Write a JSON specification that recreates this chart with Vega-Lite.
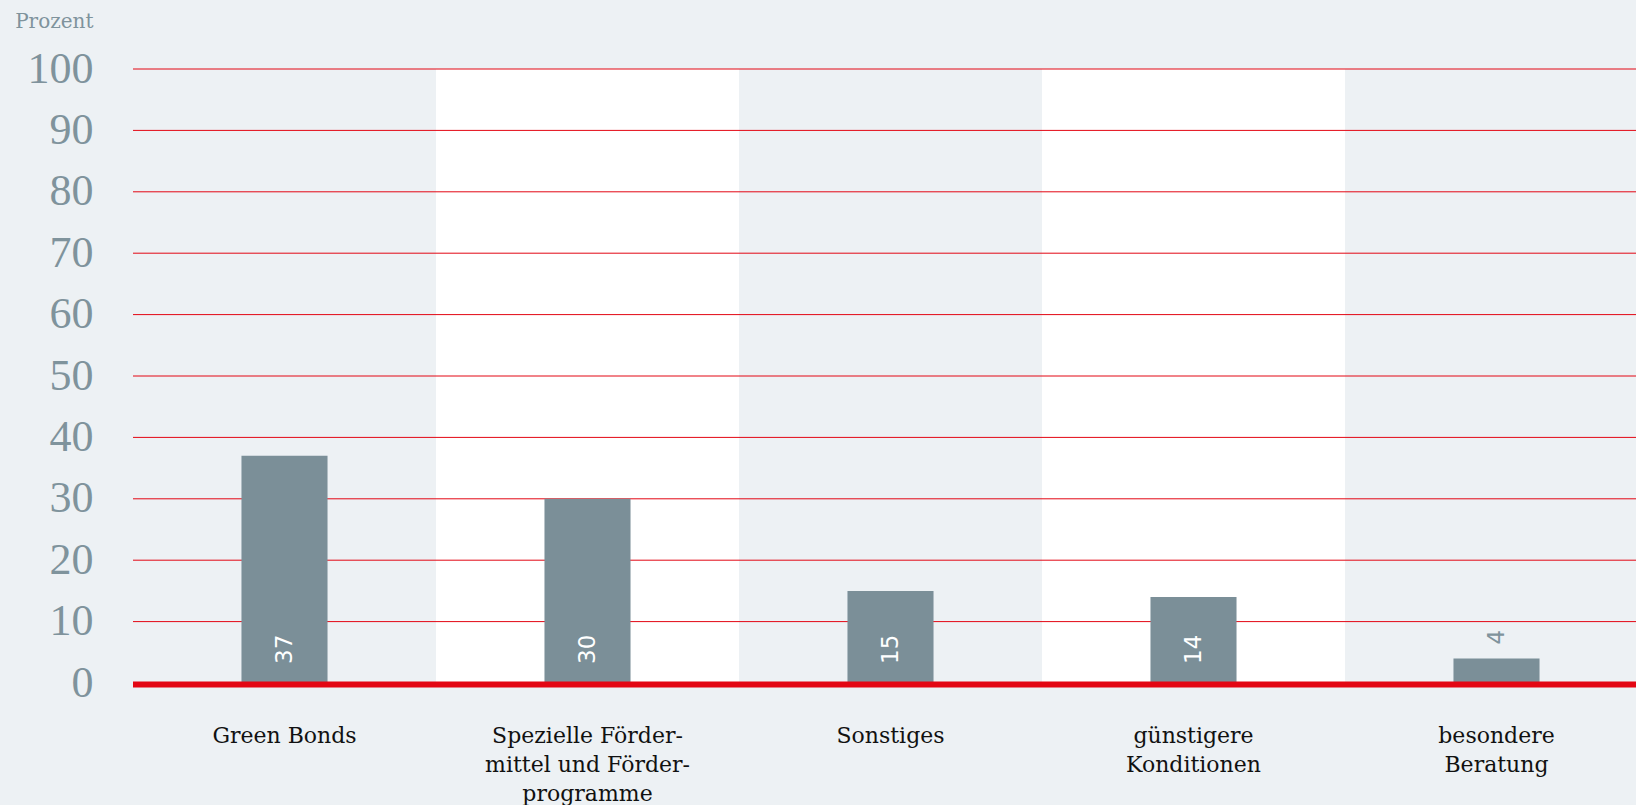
{
  "$schema": "https://vega.github.io/schema/vega-lite/v6.json",
  "autosize": "none",
  "width": 1503,
  "height": 614,
  "padding": {"left": 133, "top": 69, "right": 0, "bottom": 122},
  "background": "#edf1f4",
  "config": {"view": {"stroke": null}},
  "datasets": {
    "werte": [
      {"kategorie": "Green Bonds", "prozent": 37},
      {"kategorie": "Spezielle Fördermittel und Förderprogramme", "prozent": 30},
      {"kategorie": "Sonstiges", "prozent": 15},
      {"kategorie": "günstigere Konditionen", "prozent": 14},
      {"kategorie": "besondere Beratung", "prozent": 4}
    ],
    "streifen": [
      {"kategorie": "Spezielle Fördermittel und Förderprogramme"},
      {"kategorie": "günstigere Konditionen"}
    ],
    "gitter": [
      {"wert": 10}, {"wert": 20}, {"wert": 30}, {"wert": 40}, {"wert": 50},
      {"wert": 60}, {"wert": 70}, {"wert": 80}, {"wert": 90}, {"wert": 100}
    ]
  },
  "encoding": {
    "x": {
      "field": "kategorie",
      "type": "nominal",
      "scale": {
        "domain": ["Green Bonds", "Spezielle Fördermittel und Förderprogramme", "Sonstiges", "günstigere Konditionen", "besondere Beratung"],
        "range": [0, 1515],
        "paddingInner": 0,
        "paddingOuter": 0
      },
      "axis": {
        "title": null,
        "labelAngle": 0,
        "domain": false,
        "ticks": false,
        "labelPadding": 42,
        "labelLimit": 0,
        "labelFont": "DejaVu Serif",
        "labelFontSize": 22,
        "labelColor": "#111111",
        "labelLineHeight": 29,
        "labelBaseline": "top",
        "labelExpr": "datum.value == 'Spezielle Fördermittel und Förderprogramme' ? ['Spezielle Förder-', 'mittel und Förder-', 'programme'] : datum.value == 'günstigere Konditionen' ? ['günstigere', 'Konditionen'] : datum.value == 'besondere Beratung' ? ['besondere', 'Beratung'] : datum.label"
      }
    }
  },
  "layer": [
    {
      "data": {"name": "streifen"},
      "mark": {"type": "rect", "color": "#ffffff"},
      "encoding": {
        "y": {"datum": 0, "type": "quantitative"},
        "y2": {"datum": 100}
      }
    },
    {
      "data": {"name": "gitter"},
      "mark": {"type": "rule", "color": "#e30613", "strokeWidth": 1},
      "encoding": {
        "x": null,
        "y": {"field": "wert", "type": "quantitative"}
      }
    },
    {
      "data": {"name": "werte"},
      "mark": {"type": "bar", "color": "#7b8f98", "width": {"band": 0.284}},
      "encoding": {
        "y": {
          "field": "prozent",
          "type": "quantitative",
          "scale": {"domain": [0, 100], "nice": false},
          "axis": {
            "values": [0, 10, 20, 30, 40, 50, 60, 70, 80, 90, 100],
            "grid": false,
            "domain": false,
            "ticks": false,
            "labelPadding": 40,
            "labelFont": "Liberation Serif",
            "labelFontSize": 44,
            "labelColor": "#7f939c",
            "title": "Prozent",
            "titleAngle": 0,
            "titleAlign": "right",
            "titleBaseline": "alphabetic",
            "titleX": -40,
            "titleY": -42,
            "titleFont": "DejaVu Serif",
            "titleFontSize": 20,
            "titleFontWeight": "normal",
            "titleColor": "#7f939c"
          }
        }
      }
    },
    {
      "data": {"name": "werte"},
      "transform": [{"filter": "datum.prozent >= 10"}],
      "mark": {"type": "text", "angle": 270, "align": "left", "baseline": "middle", "dx": 19, "font": "DejaVu Sans", "fontSize": 23, "color": "#ffffff"},
      "encoding": {
        "y": {"datum": 0, "type": "quantitative"},
        "text": {"field": "prozent", "type": "quantitative"}
      }
    },
    {
      "data": {"name": "werte"},
      "transform": [{"filter": "datum.prozent < 10"}],
      "mark": {"type": "text", "angle": 270, "align": "left", "baseline": "middle", "dx": 14, "font": "DejaVu Sans", "fontSize": 23, "color": "#7f939c"},
      "encoding": {
        "y": {"field": "prozent", "type": "quantitative"},
        "text": {"field": "prozent", "type": "quantitative"}
      }
    },
    {
      "data": {"values": [{}]},
      "mark": {"type": "rule", "color": "#e30613", "strokeWidth": 6, "yOffset": 1.5},
      "encoding": {
        "x": null,
        "y": {"datum": 0, "type": "quantitative"}
      }
    }
  ]
}
